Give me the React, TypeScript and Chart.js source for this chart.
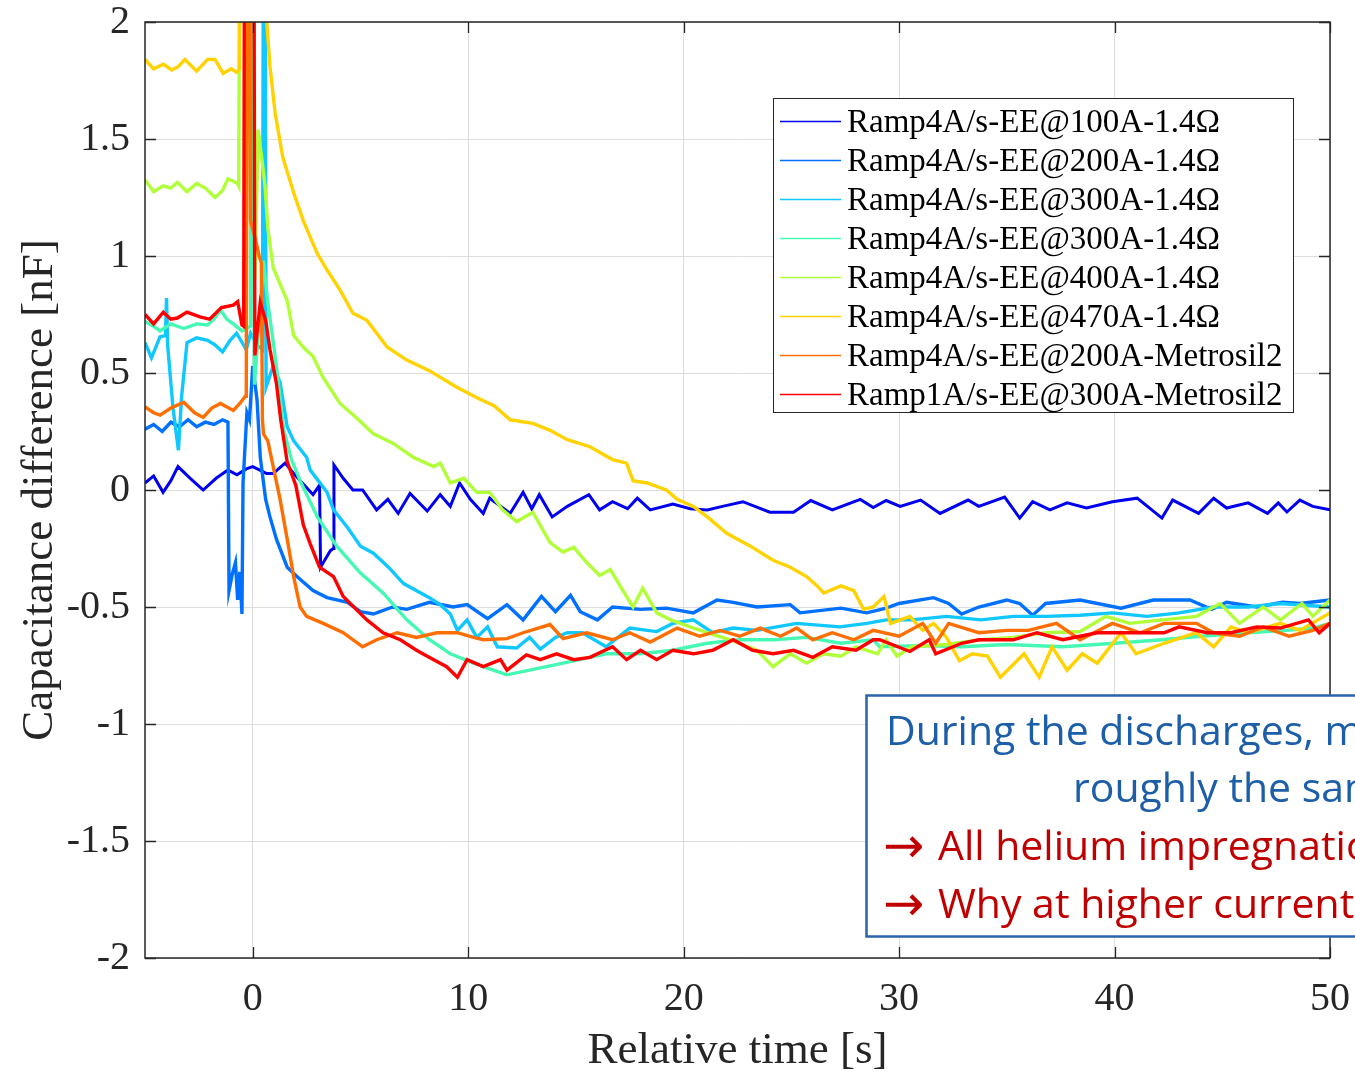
import React, { useEffect, useRef } from 'react';
import { Chart, registerables } from 'chart.js';

Chart.register(...registerables);

const xTickValues = [0, 10, 20, 30, 40, 50];
const yTickValues = [-2, -1.5, -1, -0.5, 0, 0.5, 1, 1.5, 2];

const seriesLabels = [
  'Ramp4A/s-EE@100A-1.4Ω',
  'Ramp4A/s-EE@200A-1.4Ω',
  'Ramp4A/s-EE@300A-1.4Ω',
  'Ramp4A/s-EE@300A-1.4Ω',
  'Ramp4A/s-EE@400A-1.4Ω',
  'Ramp4A/s-EE@470A-1.4Ω',
  'Ramp4A/s-EE@200A-Metrosil2',
  'Ramp1A/s-EE@300A-Metrosil2',
];

const seriesColors = ['#0000ee', '#0070ff', '#10c8ff', '#45f8b4', '#b0ff38', '#ffd200', '#ff6e00', '#ff0000'];

// [time s, capacitance difference nF]
const ee100A: [number, number][] = [
  [-5, 0.03], [-4.6, 0.06], [-4.16, -0.01], [-3.8, 0.04], [-3.47, 0.1], [-2.9, 0.05], [-2.3, 0.0], [-1.7, 0.05],
  [-1.15, 0.085], [-0.73, 0.065], [-0.3, 0.09], [0, 0.1], [0.65, 0.07], [0.95, 0.07], [1.5, 0.115], [2.05, 0.055],
  [2.8, -0.02], [3.1, 0.02], [3.15, -0.33], [3.6, -0.26], [3.74, -0.25], [3.77, 0.107], [4.2, 0.05], [4.65, 0.0],
  [5.1, 0.0], [5.75, -0.085], [6.27, -0.04], [6.75, -0.1], [7.3, -0.015], [8.1, -0.09], [8.7, -0.02], [9.17, -0.07],
  [9.6, 0.03], [10.1, -0.04], [10.7, -0.1], [11.0, -0.035], [11.95, -0.1], [12.55, -0.01], [12.95, -0.08], [13.3, -0.02],
  [13.9, -0.115], [14.6, -0.07], [15.6, -0.02], [16.1, -0.085], [16.7, -0.05], [17.4, -0.08], [17.85, -0.035], [18.45, -0.085],
  [19.5, -0.06], [20.3, -0.08], [21.1, -0.085], [21.8, -0.07], [22.75, -0.05], [24, -0.095], [25.1, -0.095], [25.9, -0.045],
  [26.9, -0.085], [28.2, -0.04], [28.8, -0.075], [29.4, -0.045], [30.05, -0.07], [31, -0.043], [31.9, -0.1], [33.2, -0.043],
  [33.7, -0.07], [34.9, -0.03], [35.6, -0.12], [36.2, -0.05], [37, -0.085], [37.8, -0.055], [38.7, -0.077], [39.9, -0.05],
  [41.05, -0.035], [42.2, -0.12], [42.7, -0.043], [43.9, -0.1], [44.6, -0.035], [45.2, -0.077], [46.2, -0.055], [47.1, -0.1],
  [47.6, -0.055], [48.0, -0.094], [48.6, -0.043], [49.2, -0.07], [50, -0.085],
];

const ee200A: [number, number][] = [
  [-5, 0.26], [-4.6, 0.28], [-4.2, 0.25], [-3.8, 0.29], [-3.4, 0.27], [-3, 0.3], [-2.6, 0.27], [-2.2, 0.29], [-1.8, 0.28],
  [-1.4, 0.3], [-1.15, 0.29], [-1.1, -0.43], [-0.95, -0.36], [-0.8, -0.31], [-0.7, -0.47], [-0.6, -0.35], [-0.5, -0.53],
  [-0.45, 0.03], [-0.27, 0.33], [-0.15, 0.3], [0, 0.53], [0.2, 0.385], [0.35, 0.14], [0.6, -0.04], [0.8, -0.115],
  [1.1, -0.21], [1.6, -0.33], [2.05, -0.37], [2.8, -0.43], [3.45, -0.46], [4.4, -0.48], [5.0, -0.52], [5.6, -0.53],
  [6.5, -0.5], [7.15, -0.51], [8.2, -0.48], [9.3, -0.5], [9.95, -0.49], [10.9, -0.55], [11.8, -0.49], [12.55, -0.555],
  [13.4, -0.455], [14.05, -0.52], [14.75, -0.45], [15.2, -0.52], [16.0, -0.555], [16.7, -0.5], [18, -0.51], [19.2, -0.505],
  [20.45, -0.525], [21.55, -0.47], [22.3, -0.48], [23.4, -0.5], [24.95, -0.49], [25.4, -0.525], [27.3, -0.505], [28.5, -0.525],
  [29.4, -0.505], [30, -0.485], [31.6, -0.46], [32.3, -0.485], [32.9, -0.53], [33.7, -0.5], [35, -0.47], [35.6, -0.485],
  [36.2, -0.535], [36.8, -0.485], [38.4, -0.47], [40.3, -0.505], [41.8, -0.47], [43.5, -0.47], [44.5, -0.51], [45.2, -0.48],
  [46.6, -0.5], [47.8, -0.48], [48.6, -0.485], [50, -0.47],
];

const ee300A: [number, number][] = [
  [-5, 0.63], [-4.7, 0.565], [-4.3, 0.655], [-4.05, 0.66], [-4.0, 0.82], [-3.95, 0.62], [-3.7, 0.35], [-3.45, 0.17],
  [-3.3, 0.4], [-3.05, 0.63], [-2.6, 0.65], [-2.1, 0.64], [-1.75, 0.62], [-1.4, 0.59], [-1.05, 0.64], [-0.75, 0.67],
  [-0.3, 0.6], [-0.1, 0.67], [0.2, 0.62], [0.45, 0.6], [0.5, 2.6], [0.57, 2.6], [0.62, 0.44], [0.95, 0.53], [1.27, 0.46],
  [1.6, 0.27], [1.9, 0.21], [2.5, 0.14], [2.67, 0.085], [3.45, -0.01], [3.75, -0.085], [4.4, -0.16], [5, -0.24],
  [5.6, -0.27], [6.3, -0.33], [7, -0.4], [8.2, -0.46], [8.7, -0.49], [9.17, -0.53], [9.5, -0.6], [9.95, -0.555],
  [10.4, -0.63], [10.9, -0.585], [11.35, -0.67], [12.25, -0.675], [12.85, -0.63], [13.35, -0.68], [14.05, -0.63],
  [14.6, -0.61], [15.3, -0.61], [16.4, -0.67], [17.5, -0.59], [18.75, -0.605], [19.5, -0.57], [20.45, -0.555],
  [21.35, -0.61], [22.3, -0.59], [23.4, -0.6], [25.25, -0.57], [27.25, -0.585], [28.5, -0.57], [29.4, -0.555],
  [30.6, -0.555], [32.2, -0.54], [33.8, -0.555], [35.3, -0.54], [36.8, -0.54], [38.4, -0.535], [39.9, -0.525],
  [41.5, -0.54], [43, -0.525], [44.6, -0.5], [46.2, -0.5], [47.7, -0.485], [50, -0.5],
];

const ee300Ab: [number, number][] = [
  [-5, 0.72], [-4.6, 0.7], [-4.3, 0.68], [-3.8, 0.71], [-3.2, 0.69], [-2.6, 0.71], [-2.1, 0.705], [-1.8, 0.73],
  [-1.5, 0.77], [-1.2, 0.73], [-0.9, 0.71], [-0.5, 0.68], [-0.1, 0.7], [-0.05, 2.6], [0.02, 2.6], [0.08, 0.45],
  [0.3, 0.72], [0.5, 0.98], [0.7, 0.8], [1.0, 0.6], [1.2, 0.45], [1.43, 0.26], [1.8, 0.13], [2.2, 0.04], [3, -0.115],
  [3.9, -0.24], [5, -0.355], [6.05, -0.44], [7.15, -0.555], [8.2, -0.64], [8.7, -0.67], [9.17, -0.7], [10.25, -0.74],
  [11.5, -0.78], [11.8, -0.79], [13.35, -0.76], [14.9, -0.73], [16.4, -0.7], [18, -0.7], [19.5, -0.685], [21.1, -0.655],
  [22.6, -0.64], [24.2, -0.64], [25.7, -0.63], [27.3, -0.655], [28.8, -0.64], [29.1, -0.67], [31, -0.665], [32.9, -0.67],
  [35, -0.66], [37.6, -0.67], [40, -0.655], [42.2, -0.64], [44, -0.625], [46.2, -0.61], [48, -0.6], [49.2, -0.59],
  [50, -0.57],
];

const ee400A: [number, number][] = [
  [-5, 1.325], [-4.6, 1.275], [-4.15, 1.3], [-3.8, 1.29], [-3.5, 1.315], [-3.05, 1.275], [-2.6, 1.31], [-2.2, 1.29],
  [-1.75, 1.25], [-1.4, 1.28], [-1.15, 1.33], [-0.7, 1.31], [-0.65, 1.3], [-0.6, 2.6], [0.05, 2.6], [0.1, 0.9],
  [0.25, 1.54], [0.43, 1.41], [0.57, 1.3], [0.7, 1.12], [0.95, 0.95], [1.27, 0.88], [1.6, 0.81], [1.9, 0.66],
  [2.35, 0.61], [2.8, 0.57], [3.27, 0.48], [4.05, 0.37], [4.8, 0.31], [5.6, 0.24], [6.5, 0.2], [7.45, 0.14], [8.4, 0.1],
  [8.7, 0.115], [9.17, 0.03], [9.8, 0.05], [10.4, -0.01], [11, -0.01], [11.6, -0.085], [12.25, -0.135], [13, -0.095],
  [13.8, -0.225], [14.4, -0.265], [14.9, -0.245], [15.5, -0.31], [16.1, -0.365], [16.6, -0.34], [17.05, -0.41],
  [17.65, -0.5], [18.1, -0.42], [18.75, -0.525], [19.4, -0.555], [20.3, -0.585], [21.1, -0.61], [22.15, -0.64],
  [23.4, -0.685], [24.15, -0.755], [24.95, -0.7], [25.7, -0.74], [26.5, -0.7], [27.3, -0.71], [28, -0.67], [29, -0.7],
  [29.4, -0.64], [29.9, -0.71], [30.6, -0.67], [32.2, -0.66], [33.8, -0.64], [35.3, -0.63], [36.8, -0.61],
  [38.4, -0.605], [39.6, -0.54], [40.7, -0.57], [42.2, -0.555], [43.8, -0.54], [44.9, -0.485], [45.8, -0.57],
  [46.9, -0.5], [47.7, -0.555], [48.7, -0.485], [49.2, -0.54], [50, -0.47],
];

const ee470A: [number, number][] = [
  [-5, 1.84], [-4.6, 1.8], [-4.15, 1.82], [-3.75, 1.795], [-3.45, 1.81], [-3.15, 1.84], [-2.6, 1.79], [-2.1, 1.84],
  [-1.75, 1.84], [-1.37, 1.78], [-1.0, 1.8], [-0.75, 1.785], [-0.62, 1.8], [-0.58, 2.6], [0.55, 2.6], [0.65, 2.0],
  [0.8, 1.81], [1.04, 1.61], [1.4, 1.42], [1.9, 1.27], [2.35, 1.15], [3, 1.01], [3.45, 0.94], [4.05, 0.855],
  [4.65, 0.755], [5.3, 0.725], [6.25, 0.61], [7.15, 0.555], [8.2, 0.51], [9.45, 0.44], [10.5, 0.39], [11.2, 0.36],
  [11.95, 0.3], [13, 0.285], [13.8, 0.255], [14.6, 0.215], [15.65, 0.185], [16.7, 0.13], [17.35, 0.115], [17.65, 0.04],
  [18.3, 0.03], [19.2, 0.0], [19.7, -0.04], [20.45, -0.07], [21.1, -0.115], [22, -0.185], [23.1, -0.24], [24.15, -0.3],
  [24.95, -0.33], [25.7, -0.37], [26.2, -0.41], [26.5, -0.44], [27.3, -0.41], [27.9, -0.43], [28.35, -0.51],
  [28.8, -0.5], [29.3, -0.455], [29.6, -0.57], [30.5, -0.54], [31.1, -0.6], [31.6, -0.57], [32.2, -0.63], [32.8, -0.73],
  [33.4, -0.7], [34.1, -0.71], [34.7, -0.8], [35.8, -0.7], [36.5, -0.8], [37.1, -0.67], [37.8, -0.77], [38.5, -0.7],
  [39.2, -0.74], [40.3, -0.61], [41, -0.7], [42.3, -0.655], [43.8, -0.61], [44.6, -0.67], [45.4, -0.585], [46.2, -0.61],
  [47.7, -0.57], [48.6, -0.6], [50, -0.525],
];

const metrosil200A: [number, number][] = [
  [-5, 0.355], [-4.6, 0.33], [-4.3, 0.32], [-3.8, 0.35], [-3.2, 0.375], [-2.7, 0.33], [-2.3, 0.31], [-1.9, 0.35],
  [-1.5, 0.37], [-0.9, 0.34], [-0.6, 0.37], [-0.35, 0.4], [-0.3, 0.4], [-0.25, 2.6], [-0.15, 2.6], [-0.1, 1.15],
  [0.1, 1.08], [0.3, 1.0], [0.4, 0.97], [0.45, 0.3], [0.5, 0.24], [0.7, 0.21], [0.95, 0.1], [1.27, -0.04], [1.6, -0.21],
  [1.9, -0.37], [2.2, -0.5], [2.5, -0.54], [3.27, -0.57], [4.2, -0.61], [5.1, -0.67], [5.75, -0.64], [6.7, -0.61],
  [7.6, -0.63], [8.55, -0.61], [9.5, -0.61], [10.25, -0.63], [10.7, -0.64], [11.8, -0.635], [12.55, -0.61],
  [13.8, -0.575], [14.4, -0.635], [15.5, -0.61], [16.7, -0.64], [17.5, -0.61], [18.45, -0.65], [19.7, -0.59],
  [20.75, -0.625], [21.7, -0.6], [22.6, -0.625], [23.55, -0.59], [24.5, -0.625], [25.25, -0.59], [26, -0.64],
  [26.9, -0.61], [27.9, -0.64], [28.8, -0.6], [30, -0.625], [31.1, -0.57], [31.7, -0.655], [32.3, -0.57], [33.7, -0.61],
  [35, -0.6], [36, -0.6], [37.3, -0.57], [38.4, -0.64], [39.9, -0.57], [41.2, -0.61], [42.3, -0.57], [43.8, -0.57],
  [44.6, -0.61], [45.8, -0.625], [46.9, -0.585], [48.1, -0.625], [49.2, -0.6], [50, -0.57],
];

const metrosil300A: [number, number][] = [
  [-5, 0.75], [-4.6, 0.71], [-4.15, 0.76], [-3.8, 0.73], [-3.5, 0.735], [-3.05, 0.76], [-2.45, 0.74], [-2, 0.73],
  [-1.45, 0.78], [-0.9, 0.79], [-0.7, 0.805], [-0.5, 0.705], [-0.42, 0.7], [-0.38, 2.6], [0.05, 2.6], [0.1, 0.575],
  [0.2, 0.67], [0.35, 0.8], [0.6, 0.725], [0.8, 0.6], [1.1, 0.455], [1.3, 0.3], [1.6, 0.12], [2.0, 0.02], [2.35, -0.15],
  [2.67, -0.23], [3.1, -0.33], [3.75, -0.37], [4.2, -0.455], [4.8, -0.51], [5.3, -0.555], [6.05, -0.61], [6.85, -0.64],
  [7.6, -0.685], [8.4, -0.725], [9, -0.755], [9.5, -0.8], [9.95, -0.725], [10.7, -0.755], [11.5, -0.725], [11.8, -0.77],
  [12.7, -0.705], [13.35, -0.725], [14.1, -0.7], [14.9, -0.725], [15.65, -0.715], [16.7, -0.67], [17.35, -0.725],
  [18, -0.685], [18.75, -0.725], [19.5, -0.685], [20.45, -0.7], [21.35, -0.685], [22.3, -0.64], [23.2, -0.685],
  [24.15, -0.7], [25.1, -0.685], [26, -0.715], [26.9, -0.67], [28, -0.685], [28.8, -0.64], [29.1, -0.64], [30.5, -0.69],
  [31.4, -0.64], [31.7, -0.7], [32.9, -0.655], [33.7, -0.64], [35.3, -0.64], [36.4, -0.61], [37.6, -0.64], [39.2, -0.61],
  [40.7, -0.61], [42.3, -0.61], [43, -0.585], [44.3, -0.61], [45.4, -0.61], [46.6, -0.585], [47.7, -0.59], [49, -0.555],
  [49.5, -0.61], [50, -0.57],
];

const allSeries = [ee100A, ee200A, ee300A, ee300Ab, ee400A, ee470A, metrosil200A, metrosil300A];

const noteBlueLines = ['During the discharges, most', 'roughly the same'];
const noteRedLines = ['All helium impregnation', 'Why at higher currents'];

const SERIF = "'Liberation Serif', 'Times New Roman', serif";

const overlayPlugin = {
  id: 'overlay',
  afterDraw(chart: any) {
    const { ctx, chartArea: a, scales } = chart;
    const xs = scales.x;
    const ys = scales.y;
    ctx.save();

    // frame
    ctx.strokeStyle = '#262626';
    ctx.lineWidth = 1.5;
    ctx.strokeRect(a.left, a.top, a.right - a.left, a.bottom - a.top);

    // inward ticks on all sides
    const tl = 11;
    ctx.lineWidth = 1.3;
    ctx.beginPath();
    xTickValues.forEach((v) => {
      const px = Math.round(xs.getPixelForValue(v)) + 0.5;
      ctx.moveTo(px, a.bottom);
      ctx.lineTo(px, a.bottom - tl);
      ctx.moveTo(px, a.top);
      ctx.lineTo(px, a.top + tl);
    });
    yTickValues.forEach((v) => {
      const py = Math.round(ys.getPixelForValue(v)) + 0.5;
      ctx.moveTo(a.left, py);
      ctx.lineTo(a.left + tl, py);
      ctx.moveTo(a.right, py);
      ctx.lineTo(a.right - tl, py);
    });
    ctx.stroke();

    // axis titles
    ctx.fillStyle = '#262626';
    ctx.font = `45px ${SERIF}`;
    ctx.textAlign = 'center';
    ctx.textBaseline = 'alphabetic';
    ctx.fillText('Relative time [s]', (a.left + a.right) / 2, 1063);
    ctx.save();
    ctx.translate(52, (a.top + a.bottom) / 2);
    ctx.rotate(-Math.PI / 2);
    ctx.fillText('Capacitance difference [nF]', 0, 0);
    ctx.restore();

    // legend
    const lx = 773.5, ly = 98.5, lw = 520, lh = 314;
    ctx.fillStyle = '#ffffff';
    ctx.fillRect(lx, ly, lw, lh);
    ctx.strokeStyle = '#262626';
    ctx.lineWidth = 1;
    ctx.strokeRect(lx, ly, lw, lh);
    ctx.font = `33px ${SERIF}`;
    ctx.textAlign = 'left';
    ctx.textBaseline = 'alphabetic';
    seriesLabels.forEach((label, i) => {
      const cy = 121 + i * 39;
      ctx.strokeStyle = seriesColors[i];
      ctx.lineWidth = 1.5;
      ctx.beginPath();
      ctx.moveTo(780, cy + 0.5);
      ctx.lineTo(841, cy + 0.5);
      ctx.stroke();
      ctx.fillStyle = '#000000';
      ctx.fillText(label, 847, cy + 11);
    });

    // annotation box
    ctx.fillStyle = '#ffffff';
    ctx.fillRect(866, 695, 600, 242);
    ctx.strokeStyle = '#2a64ad';
    ctx.lineWidth = 2.5;
    ctx.strokeRect(866.5, 695.5, 600, 241);
    const family = "'Open Sans', 'Noto Sans', sans-serif";
    ctx.font = `40px ${family}`;
    const w = ctx.measureText('During the discharges,').width;
    const fs = (40 * 428) / w;
    ctx.font = `${fs}px ${family}`;
    ctx.fillStyle = '#1d5ea8';
    ctx.fillText(noteBlueLines[0], 886, 745);
    ctx.fillText(noteBlueLines[1], 1073, 802);
    ctx.fillStyle = '#c00000';
    ctx.fillText(noteRedLines[0], 938, 860);
    ctx.fillText(noteRedLines[1], 938, 918);
    ctx.font = `${fs * 1.2}px 'DejaVu Sans', sans-serif`;
    ctx.fillText('→', 883, 862);
    ctx.fillText('→', 883, 920);

    ctx.restore();
  },
};

export default function App() {
  const ref = useRef<HTMLCanvasElement | null>(null);

  useEffect(() => {
    document.body.style.margin = '0';
    const canvas = ref.current;
    if (!canvas) return;
    const n = allSeries.length;
    const chart = new Chart(canvas, {
      type: 'line',
      data: {
        datasets: allSeries.map((s, i) => ({
          label: seriesLabels[i],
          data: s.map(([x, y]) => ({ x, y })),
          borderColor: seriesColors[i],
          backgroundColor: seriesColors[i],
          borderWidth: i === 0 ? 3 : 3.4,
          pointRadius: 0,
          tension: 0,
          fill: false,
          order: n - i,
        })),
      },
      options: {
        responsive: false,
        animation: false,
        devicePixelRatio: 1,
        layout: { padding: { top: 22, right: 25, left: 0, bottom: 0 } },
        plugins: { legend: { display: false }, tooltip: { enabled: false } },
        scales: {
          x: {
            type: 'linear',
            min: -5,
            max: 50,
            afterBuildTicks: (scale: any) => {
              scale.ticks = xTickValues.map((v) => ({ value: v }));
            },
            afterFit: (scale: any) => {
              scale.height = 114;
              scale.paddingLeft = 0;
              scale.paddingRight = 0;
            },
            grid: { color: '#dedede', lineWidth: 1, drawTicks: false },
            border: { display: false },
            ticks: {
              font: { family: SERIF, size: 40, lineHeight: 1 },
              color: '#262626',
              padding: 21,
              maxRotation: 0,
              callback: (v: any) => String(v),
            },
          },
          y: {
            type: 'linear',
            min: -2,
            max: 2,
            afterBuildTicks: (scale: any) => {
              scale.ticks = yTickValues.map((v) => ({ value: v }));
            },
            afterFit: (scale: any) => {
              scale.width = 145;
              scale.paddingTop = 0;
              scale.paddingBottom = 0;
            },
            grid: { color: '#dedede', lineWidth: 1, drawTicks: false },
            border: { display: false },
            ticks: {
              font: { family: SERIF, size: 40, lineHeight: 1 },
              color: '#262626',
              padding: 15,
              callback: (v: any) => String(v),
            },
          },
        },
      },
      plugins: [overlayPlugin],
    });
    return () => chart.destroy();
  }, []);

  return <canvas ref={ref} width={1355} height={1072} style={{ display: 'block' }} />;
}
